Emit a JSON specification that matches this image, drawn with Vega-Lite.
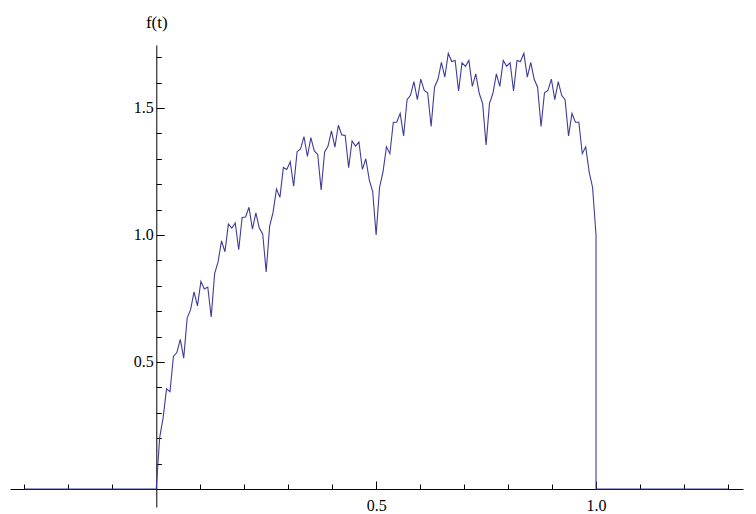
{
  "$schema": "https://vega.github.io/schema/vega-lite/v6.json",
  "width": 733,
  "height": 462,
  "autosize": "none",
  "padding": {"left": 10, "top": 45, "right": 13, "bottom": 7},
  "background": "white",
  "config": {
    "view": {"stroke": null},
    "axis": {
      "grid": false,
      "zindex": 1,
      "labelFont": "Liberation Serif",
      "titleFont": "Liberation Serif",
      "labelFontSize": 16,
      "titleFontSize": 17,
      "titleFontWeight": "normal",
      "domainColor": "#000000",
      "tickColor": "#000000",
      "labelColor": "#000000",
      "titleColor": "#000000",
      "domainWidth": 1,
      "tickWidth": 1,
      "labelOverlap": false,
      "labelFlush": false
    }
  },
  "data": {
    "values": [
      {"t": -0.3, "f": 0},
      {"t": 0, "f": 0},
      {"t": 0.0078125, "f": 0.202},
      {"t": 0.015625, "f": 0.280},
      {"t": 0.0234375, "f": 0.394},
      {"t": 0.03125, "f": 0.383},
      {"t": 0.0390625, "f": 0.522},
      {"t": 0.046875, "f": 0.537},
      {"t": 0.0546875, "f": 0.589},
      {"t": 0.0625, "f": 0.515},
      {"t": 0.0703125, "f": 0.673},
      {"t": 0.078125, "f": 0.706},
      {"t": 0.0859375, "f": 0.776},
      {"t": 0.09375, "f": 0.721},
      {"t": 0.1015625, "f": 0.817},
      {"t": 0.109375, "f": 0.787},
      {"t": 0.1171875, "f": 0.795},
      {"t": 0.125, "f": 0.677},
      {"t": 0.1328125, "f": 0.848},
      {"t": 0.140625, "f": 0.894},
      {"t": 0.1484375, "f": 0.977},
      {"t": 0.15625, "f": 0.934},
      {"t": 0.1640625, "f": 1.043},
      {"t": 0.171875, "f": 1.027},
      {"t": 0.1796875, "f": 1.047},
      {"t": 0.1875, "f": 0.942},
      {"t": 0.1953125, "f": 1.069},
      {"t": 0.203125, "f": 1.071},
      {"t": 0.2109375, "f": 1.109},
      {"t": 0.21875, "f": 1.023},
      {"t": 0.2265625, "f": 1.087},
      {"t": 0.234375, "f": 1.027},
      {"t": 0.2421875, "f": 1.003},
      {"t": 0.25, "f": 0.854},
      {"t": 0.2578125, "f": 1.034},
      {"t": 0.265625, "f": 1.089},
      {"t": 0.2734375, "f": 1.181},
      {"t": 0.28125, "f": 1.148},
      {"t": 0.2890625, "f": 1.266},
      {"t": 0.296875, "f": 1.258},
      {"t": 0.3046875, "f": 1.288},
      {"t": 0.3125, "f": 1.192},
      {"t": 0.3203125, "f": 1.328},
      {"t": 0.328125, "f": 1.339},
      {"t": 0.3359375, "f": 1.387},
      {"t": 0.34375, "f": 1.309},
      {"t": 0.3515625, "f": 1.383},
      {"t": 0.359375, "f": 1.331},
      {"t": 0.3671875, "f": 1.317},
      {"t": 0.375, "f": 1.177},
      {"t": 0.3828125, "f": 1.326},
      {"t": 0.390625, "f": 1.350},
      {"t": 0.3984375, "f": 1.410},
      {"t": 0.40625, "f": 1.346},
      {"t": 0.4140625, "f": 1.432},
      {"t": 0.421875, "f": 1.394},
      {"t": 0.4296875, "f": 1.392},
      {"t": 0.4375, "f": 1.265},
      {"t": 0.4453125, "f": 1.370},
      {"t": 0.453125, "f": 1.350},
      {"t": 0.4609375, "f": 1.366},
      {"t": 0.46875, "f": 1.258},
      {"t": 0.4765625, "f": 1.300},
      {"t": 0.484375, "f": 1.217},
      {"t": 0.4921875, "f": 1.171},
      {"t": 0.5, "f": 1.0},
      {"t": 0.5078125, "f": 1.187},
      {"t": 0.515625, "f": 1.248},
      {"t": 0.5234375, "f": 1.347},
      {"t": 0.53125, "f": 1.320},
      {"t": 0.5390625, "f": 1.444},
      {"t": 0.546875, "f": 1.444},
      {"t": 0.5546875, "f": 1.479},
      {"t": 0.5625, "f": 1.390},
      {"t": 0.5703125, "f": 1.533},
      {"t": 0.578125, "f": 1.550},
      {"t": 0.5859375, "f": 1.604},
      {"t": 0.59375, "f": 1.533},
      {"t": 0.6015625, "f": 1.614},
      {"t": 0.609375, "f": 1.569},
      {"t": 0.6171875, "f": 1.560},
      {"t": 0.625, "f": 1.427},
      {"t": 0.6328125, "f": 1.582},
      {"t": 0.640625, "f": 1.613},
      {"t": 0.6484375, "f": 1.680},
      {"t": 0.65625, "f": 1.622},
      {"t": 0.6640625, "f": 1.715},
      {"t": 0.671875, "f": 1.683},
      {"t": 0.6796875, "f": 1.687},
      {"t": 0.6875, "f": 1.567},
      {"t": 0.6953125, "f": 1.678},
      {"t": 0.703125, "f": 1.664},
      {"t": 0.7109375, "f": 1.687},
      {"t": 0.71875, "f": 1.585},
      {"t": 0.7265625, "f": 1.634},
      {"t": 0.734375, "f": 1.558},
      {"t": 0.7421875, "f": 1.518},
      {"t": 0.75, "f": 1.354},
      {"t": 0.7578125, "f": 1.518},
      {"t": 0.765625, "f": 1.558},
      {"t": 0.7734375, "f": 1.634},
      {"t": 0.78125, "f": 1.585},
      {"t": 0.7890625, "f": 1.687},
      {"t": 0.796875, "f": 1.664},
      {"t": 0.8046875, "f": 1.678},
      {"t": 0.8125, "f": 1.567},
      {"t": 0.8203125, "f": 1.687},
      {"t": 0.828125, "f": 1.683},
      {"t": 0.8359375, "f": 1.715},
      {"t": 0.84375, "f": 1.622},
      {"t": 0.8515625, "f": 1.680},
      {"t": 0.859375, "f": 1.613},
      {"t": 0.8671875, "f": 1.582},
      {"t": 0.875, "f": 1.427},
      {"t": 0.8828125, "f": 1.560},
      {"t": 0.890625, "f": 1.569},
      {"t": 0.8984375, "f": 1.614},
      {"t": 0.90625, "f": 1.533},
      {"t": 0.9140625, "f": 1.604},
      {"t": 0.921875, "f": 1.550},
      {"t": 0.9296875, "f": 1.533},
      {"t": 0.9375, "f": 1.390},
      {"t": 0.9453125, "f": 1.479},
      {"t": 0.953125, "f": 1.444},
      {"t": 0.9609375, "f": 1.444},
      {"t": 0.96875, "f": 1.320},
      {"t": 0.9765625, "f": 1.347},
      {"t": 0.984375, "f": 1.248},
      {"t": 0.9921875, "f": 1.187},
      {"t": 1, "f": 1.0},
      {"t": 1, "f": 0},
      {"t": 1.3, "f": 0}
    ]
  },
  "mark": {"type": "line", "color": "#3d3d99", "strokeWidth": 1.1},
  "encoding": {
    "x": {
      "field": "t",
      "type": "quantitative",
      "scale": {"domain": [-0.3325, 1.3342], "nice": false, "zero": false},
      "axis": {
        "orient": "bottom",
        "offset": -18,
        "title": null,
        "values": [-0.3, -0.2, -0.1, 0.1, 0.2, 0.3, 0.4, 0.5, 0.6, 0.7, 0.8, 0.9, 1, 1.1, 1.2, 1.3],
        "tickSize": {"condition": {"test": "datum.value == 0.5 || datum.value == 1", "value": -8}, "value": -5},
        "labelExpr": "datum.value == 0.5 ? '0.5' : datum.value == 1 ? '1.0' : ''",
        "labelPadding": 16
      }
    },
    "y": {
      "field": "f",
      "type": "quantitative",
      "scale": {"domain": [-0.071, 1.748], "nice": false, "zero": false},
      "axis": {
        "orient": "left",
        "offset": -146.3,
        "values": [0.1, 0.2, 0.3, 0.4, 0.5, 0.6, 0.7, 0.8, 0.9, 1, 1.1, 1.2, 1.3, 1.4, 1.5, 1.6, 1.7],
        "tickSize": {"condition": {"test": "datum.value == 0.5 || datum.value == 1 || datum.value == 1.5", "value": -8}, "value": -5},
        "labelExpr": "datum.value == 0.5 ? '0.5' : datum.value == 1 ? '1.0' : datum.value == 1.5 ? '1.5' : ''",
        "labelPadding": 11,
        "title": "f(t)",
        "titleAngle": 0,
        "titleX": 0,
        "titleY": -23,
        "titleAlign": "center",
        "titleBaseline": "middle"
      }
    },
    "order": {"value": null}
  }
}
